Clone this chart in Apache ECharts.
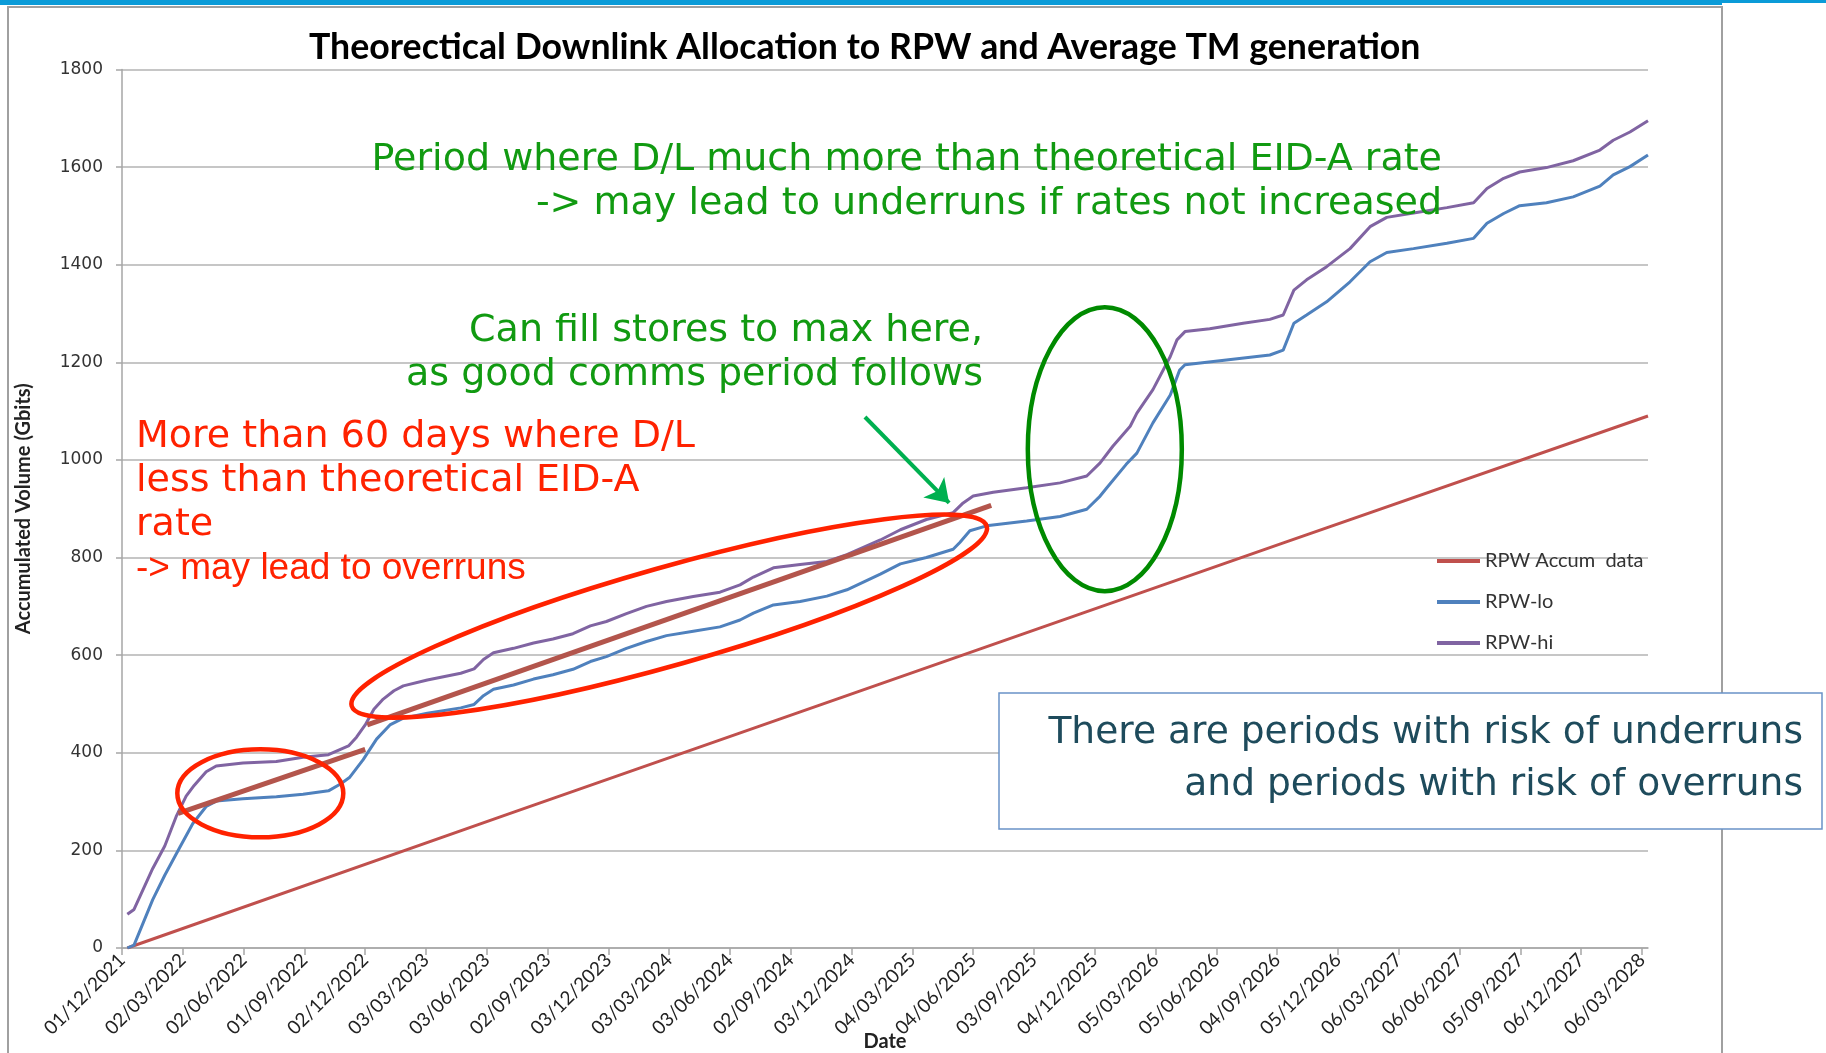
<!DOCTYPE html>
<html>
<head>
<meta charset="utf-8">
<title>Theorectical Downlink Allocation to RPW</title>
<script src="https://cdn.jsdelivr.net/npm/echarts@6/dist/echarts.min.js"></script>
<style>
  html, body { margin: 0; padding: 0; background: #fff; }
  #chart { width: 1826px; height: 1053px; }
</style>
</head>
<body>
<div id="chart"></div>
<script>
// x = days since 01/12/2021, one tick label every 91 days
const tickLabels = ['01/12/2021', '02/03/2022', '02/06/2022', '01/09/2022', '02/12/2022', '03/03/2023',
  '03/06/2023', '02/09/2023', '03/12/2023', '03/03/2024', '03/06/2024', '02/09/2024', '03/12/2024',
  '04/03/2025', '04/06/2025', '03/09/2025', '04/12/2025', '05/03/2026', '05/06/2026', '04/09/2026',
  '05/12/2026', '06/03/2027', '06/06/2027', '05/09/2027', '06/12/2027', '06/03/2028'];
const tickDays = tickLabels.map((d, i) => i * 91);

const accum = [[8, 0], [581, 276], [1734, 828], [2284, 1090]];

const lo = [[8, 0], [18, 6], [46, 99], [64, 149], [86, 205], [106, 255], [126, 290], [141, 301],
  [181, 306], [231, 310], [271, 315], [309, 322], [327, 336], [341, 350], [361, 386], [381, 428],
  [401, 457], [421, 471], [457, 481], [507, 492], [527, 499], [541, 517], [556, 530], [586, 539],
  [616, 551], [645, 560], [675, 571], [701, 587], [725, 597], [755, 614], [785, 628], [815, 640],
  [855, 649], [895, 658], [925, 672], [945, 686], [975, 703], [1015, 710], [1055, 721], [1085, 734],
  [1135, 766], [1165, 787], [1204, 800], [1244, 817], [1254, 831], [1269, 855], [1294, 865],
  [1354, 875], [1404, 884], [1444, 899], [1464, 926], [1474, 943], [1503, 991], [1519, 1014],
  [1543, 1076], [1569, 1133], [1583, 1184], [1591, 1195], [1653, 1205], [1718, 1215], [1738, 1225],
  [1754, 1280], [1773, 1297], [1803, 1324], [1838, 1365], [1868, 1406], [1893, 1425], [1933, 1433],
  [1983, 1444], [2023, 1454], [2043, 1485], [2068, 1505], [2092, 1521], [2132, 1527], [2172, 1539],
  [2212, 1561], [2232, 1584], [2257, 1601], [2284, 1625]];

const hi = [[8, 69], [18, 79], [46, 163], [64, 209], [81, 269], [96, 311], [108, 333], [126, 361],
  [141, 373], [181, 379], [231, 382], [271, 391], [309, 396], [327, 407], [339, 414], [351, 432],
  [364, 457], [377, 489], [391, 510], [407, 527], [421, 537], [457, 549], [507, 563], [527, 572],
  [541, 591], [556, 605], [586, 614], [616, 625], [645, 633], [675, 644], [701, 660], [725, 669],
  [755, 685], [785, 700], [815, 710], [855, 720], [895, 729], [925, 744], [945, 760], [975, 779],
  [1015, 786], [1055, 792], [1085, 806], [1135, 836], [1165, 857], [1204, 878], [1244, 892],
  [1259, 912], [1274, 926], [1304, 934], [1354, 943], [1404, 953], [1444, 967], [1464, 994],
  [1483, 1028], [1509, 1069], [1519, 1096], [1543, 1144], [1569, 1212], [1579, 1246], [1591, 1263],
  [1628, 1269], [1678, 1280], [1718, 1288], [1738, 1297], [1754, 1348], [1773, 1369], [1803, 1396],
  [1838, 1433], [1868, 1478], [1893, 1497], [1933, 1506], [1983, 1517], [2023, 1527], [2043, 1556],
  [2068, 1577], [2092, 1590], [2132, 1599], [2172, 1613], [2212, 1635], [2232, 1655], [2257, 1672],
  [2284, 1695]];

// hand drawn theoretical-rate segments and the arrow
const trendA = [[84, 276], [364, 407]];
const trendB = [[367, 457], [1301, 907]];
const arrowPts = [[1112, 1088], [1238, 912]];

// ellipse centres in data space [day, value]
const smallOval = [207, 317];
const bigOval = [819, 680];
const greenOval = [1471, 1022];

const chart = echarts.init(document.getElementById('chart'));

const option = {
  animation: false,
  backgroundColor: '#fff',
  title: {
    text: 'Theorectical Downlink Allocation to RPW and Average TM generation',
    left: 304,
    top: 24,
    textStyle: { fontFamily: 'Lato', fontWeight: 'bold', fontSize: 35.7, color: '#000' }
  },
  legend: {
    data: ['RPW Accum  data', 'RPW-lo', 'RPW-hi'],
    orient: 'vertical',
    left: 1432,
    top: 546,
    icon: 'rect',
    itemWidth: 43,
    itemHeight: 4,
    itemGap: 21,
    textStyle: { fontFamily: 'Lato', fontSize: 20, color: '#333' }
  },
  grid: { left: 122, right: 178, top: 69.5, bottom: 105, outerBoundsMode: 'none', containLabel: false },
  xAxis: {
    type: 'value',
    min: 0,
    max: 2284,
    name: 'Date',
    nameLocation: 'middle',
    nameGap: 84,
    nameMoveOverlap: false,
    nameTextStyle: { fontFamily: 'Lato', fontWeight: 'bold', fontSize: 20, color: '#222' },
    axisLine: { lineStyle: { color: '#a6a6a6', width: 1.5 } },
    axisTick: { show: true, length: 7, customValues: tickDays, lineStyle: { color: '#a6a6a6', width: 1.5 } },
    splitLine: { show: false },
    axisLabel: {
      customValues: tickDays,
      rotate: 45,
      margin: 9,
      fontFamily: 'Lato',
      fontSize: 19,
      color: '#222',
      formatter: v => tickLabels[Math.round(v / 91)] || ''
    }
  },
  yAxis: {
    type: 'value',
    min: 0,
    max: 1800,
    interval: 200,
    name: 'Accumulated Volume (Gbits)',
    nameLocation: 'middle',
    nameGap: 88,
    nameMoveOverlap: false,
    nameTextStyle: { fontFamily: 'Lato', fontWeight: 'bold', fontSize: 20, color: '#222' },
    axisLine: { show: true, lineStyle: { color: '#a6a6a6', width: 1.5 } },
    axisTick: { show: true, length: 6, lineStyle: { color: '#a6a6a6', width: 1.5 } },
    splitLine: { lineStyle: { color: '#b3b3b3', width: 1.5 } },
    axisLabel: { margin: 19, fontFamily: 'DejaVu Sans', fontSize: 17, color: '#333', formatter: v => String(v) }
  },
  series: [
    {
      name: 'RPW Accum  data', type: 'line', data: accum, symbol: 'none',
      lineStyle: { color: '#c0504d', width: 3 }, itemStyle: { color: '#c0504d' }
    },
    {
      name: 'RPW-lo', type: 'line', data: lo, symbol: 'none',
      lineStyle: { color: '#4f81bd', width: 3 }, itemStyle: { color: '#4f81bd' }
    },
    {
      name: 'RPW-hi', type: 'line', data: hi, symbol: 'none',
      lineStyle: { color: '#8064a2', width: 3 }, itemStyle: { color: '#8064a2' }
    },
    {
      name: 'trend A', type: 'line', data: trendA, symbol: 'none', z: 5,
      lineStyle: { color: '#b3554c', width: 5 }
    },
    {
      name: 'trend B', type: 'line', data: trendB, symbol: 'none', z: 5,
      lineStyle: { color: '#b3554c', width: 5 }
    },
    {
      name: 'arrow', type: 'line', data: [], z: 6,
      markLine: {
        silent: true,
        symbol: ['none', 'arrow'],
        symbolSize: 22,
        label: { show: false },
        lineStyle: { color: '#00b050', width: 4, type: 'solid' },
        data: [[{ coord: arrowPts[0] }, { coord: arrowPts[1] }]]
      }
    }
  ]
};

chart.setOption(option);

const px = p => chart.convertToPixel({ gridIndex: 0 }, p);
const c1 = px(smallOval), c2 = px(bigOval), c3 = px(greenOval);

function txt(x, y, text, font, fill, align) {
  return {
    type: 'text', z: 100,
    style: { x, y, text, font, fill, textAlign: align, align: align, textVerticalAlign: 'middle', verticalAlign: 'middle' }
  };
}
const verdana = '38px "DejaVu Sans"';

chart.setOption({
  graphic: [
    { type: 'rect', z: 90, shape: { x: 0, y: 0, width: 1722, height: 5 }, style: { fill: '#0b9bd8' } },
    { type: 'rect', z: 90, shape: { x: 1722, y: 0, width: 104, height: 3 }, style: { fill: '#0b9bd8' } },
    { type: 'rect', z: 90, shape: { x: 8, y: 7, width: 1714, height: 1060 }, style: { fill: 'none', stroke: '#a0a0a0', lineWidth: 2 } },
    { type: 'ellipse', z: 95, x: c1[0], y: c1[1], shape: { cx: 0, cy: 0, rx: 83, ry: 44 }, style: { fill: 'none', stroke: '#ff2200', lineWidth: 4.5 } },
    { type: 'ellipse', z: 95, x: c2[0], y: c2[1], rotation: 15.8 * Math.PI / 180, shape: { cx: 0, cy: 0, rx: 330, ry: 49 }, style: { fill: 'none', stroke: '#ff2200', lineWidth: 4.5 } },
    { type: 'ellipse', z: 95, x: c3[0], y: c3[1], shape: { cx: 0, cy: 0, rx: 77, ry: 142 }, style: { fill: 'none', stroke: '#008a00', lineWidth: 4.5 } },
    txt(1442, 160, 'Period where D/L much more than theoretical EID-A rate', verdana, '#119a11', 'right'),
    txt(1442, 204, '-> may lead to underruns if rates not increased', verdana, '#119a11', 'right'),
    txt(983, 331, 'Can fill stores to max here,', verdana, '#119a11', 'right'),
    txt(983, 375, 'as good comms period follows', verdana, '#119a11', 'right'),
    txt(136, 437, 'More than 60 days where D/L', verdana, '#ff2200', 'left'),
    txt(136, 481, 'less than theoretical EID-A', verdana, '#ff2200', 'left'),
    txt(136, 525, 'rate', verdana, '#ff2200', 'left'),
    txt(136, 569, '-> may lead to overruns', '37px "Liberation Sans"', '#ff2200', 'left'),
    { type: 'rect', z: 96, shape: { x: 999, y: 693, width: 823, height: 136 }, style: { fill: '#fff', stroke: '#6a93c8', lineWidth: 1.5 } },
    txt(1803, 733, 'There are periods with risk of underruns', '37.6px "DejaVu Sans"', '#1e4b5c', 'right'),
    txt(1803, 785, 'and periods with risk of overruns', '37.6px "DejaVu Sans"', '#1e4b5c', 'right')
  ]
});

window.addEventListener('resize', () => chart.resize());
</script>
</body>
</html>
